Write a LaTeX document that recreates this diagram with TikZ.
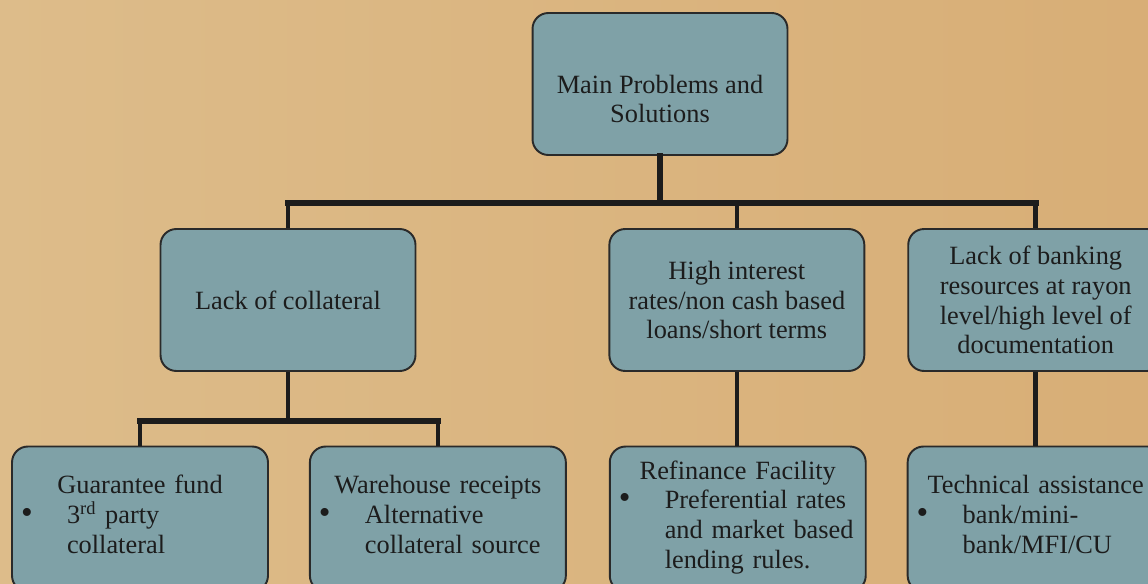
\documentclass[tikz,border=0pt]{standalone}
\usepackage{fontspec}
\setmainfont{Liberation Serif}
\usetikzlibrary{positioning}
\definecolor{paper}{HTML}{D8AE76}
\definecolor{paperlt}{HTML}{DDBC8A}
\definecolor{boxfill}{HTML}{7FA1A7}
\definecolor{edge}{HTML}{2A2A2A}
\definecolor{ink}{HTML}{1C1C1C}
\newcommand{\sol}[2]{\makebox[\linewidth]{#1}\\
  \begin{tabular}[t]{@{}p{0.92cm}@{}l@{}}{\fontsize{19}{17}\selectfont\textbullet} & #2\end{tabular}}
\tikzset{
  probbox/.style={draw=edge,line width=1.1pt,rounded corners=9pt,fill=boxfill,align=center,
    minimum width=5.1cm,minimum height=2.84cm,inner sep=0pt},
  solbox/.style={probbox,minimum width=5.12cm,minimum height=2.9cm,text width=4.76cm,
    inner xsep=0.18cm,align=left},
  trunk/.style={line width=3.3pt,draw=ink,line cap=rect},
  stem/.style={line width=2.6pt,draw=ink},
  twig/.style={line width=2pt,draw=ink},
}
\begin{document}
\begin{tikzpicture}[x=0.02cm,y=-0.02cm,font=\fontsize{15}{17}\selectfont,text=ink]
\useasboundingbox (0,0) rectangle (1148,584);
\shade[left color=paperlt,right color=paper] (0,0) rectangle (1148,584);
\clip (0,0) rectangle (1148,584);
% top
\node[probbox] (root) at (660,84) {};
\node[align=center] (roottext) at ([yshift=-0.3cm]root.center) {Main Problems and\\ Solutions};
% problems
\node[probbox] (collat) at (288,300) {Lack of collateral};
\node[probbox,right=3.84cm of collat] (rates) {High interest\\ rates/non cash based\\ loans/short terms};
\node[probbox,right=0.84cm of rates] (bank) {Lack of banking\\ resources at rayon\\ level/high level of\\ documentation};
% solutions
\node[solbox] (guar) at (140,519) {\sol{Guarantee fund}{3\textsuperscript{rd} party\\ & collateral}};
\node[solbox,right=0.8cm of guar] (ware) {\sol{Warehouse receipts}{Alternative\\ & collateral source}};
\node[solbox,right=0.84cm of ware] (refin) {\sol{Refinance Facility}{Preferential rates\\ & and market based\\ & lending rules.}};
\node[solbox,right=0.8cm of refin] (tech) {\sol{Technical assistance}{bank/mini-\\ & bank/MFI/CU}};
% connectors
\coordinate (bus) at (0,203);
\coordinate (subbus) at (0,421);
\draw[trunk] (root.south) -- (root.south |- bus);
\draw[trunk] (collat.north |- bus) -- (bank.north |- bus);
\foreach \n in {collat,rates,bank}
  \draw[stem] (\n.north |- bus) -- (\n.north);
\draw[stem] (collat.south) -- (collat.south |- subbus);
\draw[trunk] (guar.north |- subbus) -- (ware.north |- subbus);
\foreach \n in {guar,ware}
  \draw[twig] (\n.north |- subbus) -- (\n.north);
\draw[stem] (rates.south) -- (rates.south |- refin.north);
\draw[stem] (bank.south) -- (bank.south |- tech.north);
\end{tikzpicture}
\end{document}
